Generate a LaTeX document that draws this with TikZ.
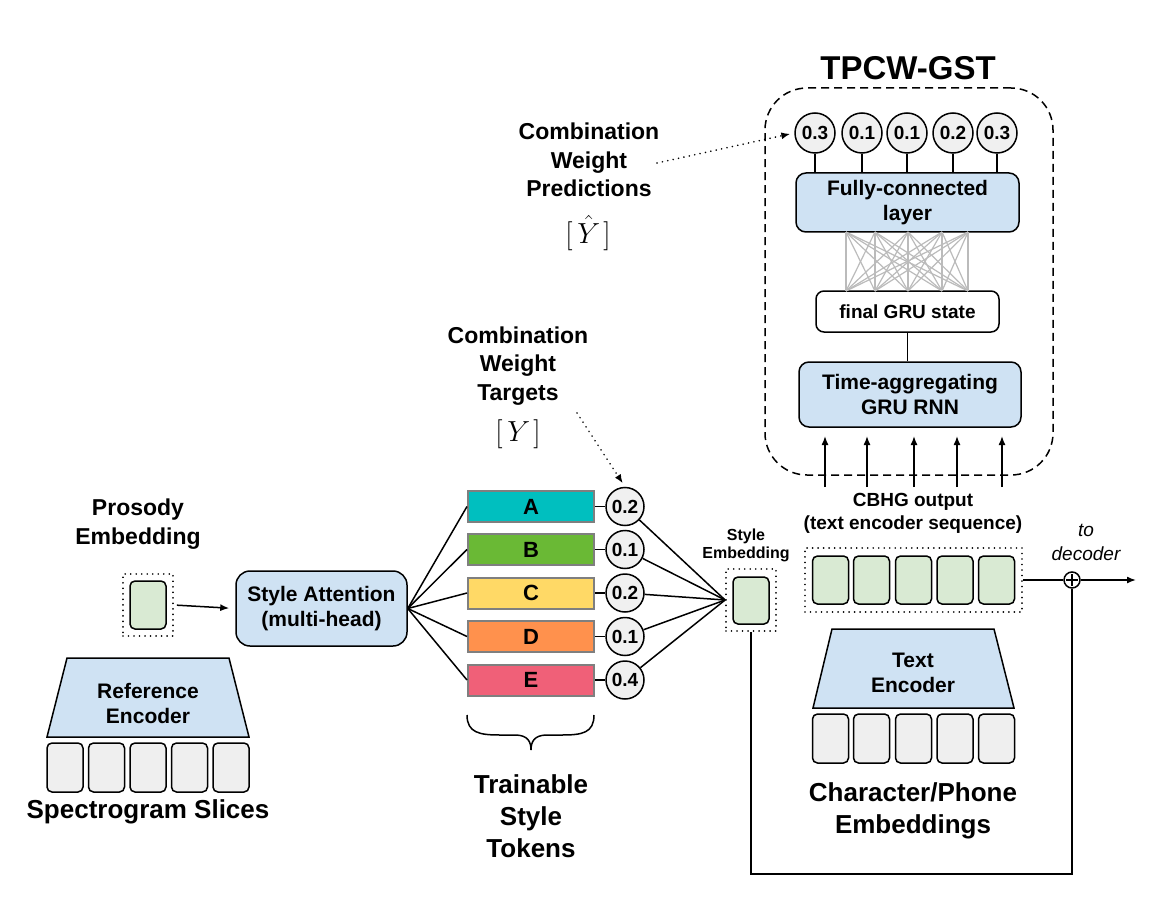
\RequirePackage{fix-cm}
\documentclass[tikz,border=0pt]{standalone}
\usepackage[no-math]{fontspec}
\setmainfont{Liberation Sans}
\usetikzlibrary{arrows.meta}
\definecolor{blueF}{HTML}{CFE2F3}
\definecolor{greenF}{HTML}{D9EAD3}
\definecolor{grayF}{HTML}{EFEFEF}
\definecolor{circF}{HTML}{F0F0F0}
\definecolor{tokBorder}{HTML}{7F7F7F}
\definecolor{tokA}{HTML}{00BFBF}
\definecolor{tokB}{HTML}{6AB935}
\definecolor{tokC}{HTML}{FFD966}
\definecolor{tokD}{HTML}{FF914D}
\definecolor{tokE}{HTML}{F06078}
\definecolor{fanGray}{HTML}{BBBBBB}
\newcommand{\myfs}[2]{\fontsize{#1}{#2}\selectfont}
\tikzset{
  lw/.style={line width=1.5pt},
  bluebox/.style={draw, line width=1.5pt, fill=blueF, rounded corners=10pt, align=center, inner sep=0pt, font=\myfs{21}{25}\bfseries},
  whitebox/.style={draw, line width=1.5pt, fill=white, rounded corners=8pt, align=center, inner sep=0pt, font=\myfs{19}{22}\bfseries},
  greenbox/.style={draw, line width=1.5pt, fill=greenF, rounded corners=5pt, minimum width=36pt, minimum height=48pt, inner sep=0pt},
  graybox/.style={draw, line width=1.5pt, fill=grayF, rounded corners=5pt, minimum width=36pt, minimum height=49pt, inner sep=0pt},
  dotbox/.style={draw, line width=1.8pt, dash pattern=on 0.01pt off 5.5pt, line cap=round, inner sep=0pt},
  tokbox/.style={draw=tokBorder, line width=2pt, minimum width=126pt, minimum height=31pt, inner sep=0pt, font=\myfs{22}{24}\bfseries},
  wcirc/.style={circle, draw, line width=1.5pt, fill=circF, minimum size=38pt, inner sep=0pt, font=\myfs{19}{20}\bfseries},
  lbl/.style={align=center, font=\myfs{23}{28.5}\bfseries},
  biglbl/.style={align=center, font=\myfs{26}{32}\bfseries},
  mathlbl/.style={inner sep=0pt, font=\myfs{20.74}{24}},
  arr/.style={-{Latex[length=9pt,width=7pt]}, line width=1.5pt},
  dotarr/.style={-{Latex[length=9pt,width=7pt]}, line width=1.8pt, dash pattern=on 0.01pt off 5.5pt, line cap=round},
}
\begin{document}
\begin{tikzpicture}[x=1pt,y=-1pt]
\useasboundingbox (0,0) rectangle (1170,920);

% ---------- TPCW-GST ----------
\node[draw, line width=1.5pt, dash pattern=on 8pt off 5pt, rounded corners=42pt, minimum width=288pt, minimum height=387pt, inner sep=0pt] (tpcw) at (909,281.5) {};
\node[font=\myfs{33}{36}\bfseries] (title) at (908,68) {TPCW-GST};

\foreach \i/\x/\v in {1/815/0.3,2/862/0.1,3/907/0.1,4/953/0.2,5/997/0.3}
  \node[wcirc, minimum size=40pt] (c\i) at (\x,133) {\v};

\node[bluebox, minimum width=223pt, minimum height=59pt] (fc) at (907.5,202.5) {Fully-connected\\layer};
\foreach \i in {1,...,5} \draw[lw] (c\i.south) -- (c\i.south |- fc.north);

\node[whitebox, minimum width=183pt, minimum height=41pt] (gru) at (907.5,311.5) {final GRU state};

\foreach \i/\x in {1/846,2/875,3/908,4/942,5/968} {
  \coordinate (u\i) at (\x,232);
  \coordinate (l\i) at (\x,291);
}
\foreach \i in {1,...,5}
  \foreach \j in {1,...,5}
    \draw[fanGray, line width=1.2pt] (u\i) -- (l\j);

\node[bluebox, minimum width=222pt, minimum height=65pt] (ta) at (910,394.5) {Time-aggregating\\GRU RNN};
\draw[lw] (gru.south) -- (gru.south |- ta.north);

\foreach \i/\x in {1/825,2/867,3/914,4/957,5/1002} {
  \coordinate (ab\i) at (\x,487);
  \coordinate (at\i) at (\x,436);
  \draw[arr] (ab\i) -- (at\i);
}

% ---------- Prediction / target labels ----------
\node[lbl] (pred) at (589,160) {Combination\\Weight\\Predictions};
\node[mathlbl] (yhat) at (588,233) {\scalebox{1.4}{$[\mkern3mu\hat{Y}\mkern2mu]$}};
\coordinate (pstart) at (657,163);
\draw[dotarr, shorten >=4pt] (pstart) -- (c1.west);

\node[lbl] (targ) at (518,366) {Combination\\Weight\\Targets};
\node[mathlbl] (ylab) at (518,434) {\scalebox{1.4}{$[\mkern3mu Y\mkern2mu]$}};
\coordinate (tstart) at (577,413);

% ---------- Tokens ----------
\foreach \n/\y/\col/\v in {A/506.5/tokA/0.2, B/549.5/tokB/0.1, C/593/tokC/0.2, D/636.5/tokD/0.1, E/680/tokE/0.4} {
  \node[tokbox, fill=\col] (t\n) at (531,\y) {\n};
  \node[wcirc] (w\n) at (625,\y) {\v};
  \draw[lw] (t\n.east) -- (w\n.west);
}
\draw[dotarr, shorten >=4pt] (tstart) -- (wA.north);

\draw[lw] (467,715) .. controls (467,733) and (480,735) .. (500,735)
  -- (515,735) .. controls (528,735) and (531,742) .. (531,750)
  .. controls (531,742) and (534,735) .. (547,735) -- (562,735)
  .. controls (582,735) and (594,733) .. (594,715);
\node[biglbl] (tst) at (531,816) {Trainable\\Style\\Tokens};

% ---------- Left side ----------
\node[lbl] (plab) at (138,524) {Prosody\\Embedding};
\node[dotbox, minimum width=50pt, minimum height=62pt] (pe) at (148,605) {};
\node[greenbox] (pein) at (148,605) {};

\node[bluebox, rounded corners=14pt, minimum width=171pt, minimum height=75pt] (sa) at (321.5,608.5) {Style Attention\\(multi-head)};
\draw[arr, shorten <=3pt, shorten >=6pt] (pe.east) -- (sa.west);

\foreach \n in {A,B,C,D,E} \draw[lw] (sa.east) -- (t\n.west);

\draw[lw, fill=blueF] (67,658) -- (229,658) -- (249,737) -- (47,737) -- cycle;
\node[align=center, font=\myfs{21}{25}\bfseries] (refenc) at (148,703.5) {Reference\\Encoder};
\foreach \i/\x in {1/65,2/106.5,3/148,4/189.5,5/231}
  \node[graybox] (s\i) at (\x,767.5) {};
\node[biglbl] (slab) at (148,812) {Spectrogram Slices};

% ---------- Style embedding ----------
\node[align=center, font=\myfs{16}{18}\bfseries] (selab) at (746,545) {Style\\Embedding};
\node[dotbox, minimum width=50pt, minimum height=62pt] (se) at (751,600) {};
\node[greenbox, minimum height=47pt] (sein) at (751,600.5) {};
\foreach \n in {A,B,C,D,E} \draw[lw] (w\n) -- (se.west);

% ---------- Text encoder side ----------
\node[align=center, font=\myfs{19}{23}\bfseries] (cbhglab) at (913,513.5) {CBHG output\\(text encoder sequence)};
\node[dotbox, minimum width=217pt, minimum height=64pt] (cbhg) at (913.5,580) {};
\foreach \i/\x in {1/830.5,2/871.5,3/913.5,4/955,5/996.5}
  \node[greenbox] (g\i) at (\x,580) {};

\draw[lw, fill=blueF] (832,629) -- (994,629) -- (1014,708) -- (813,708) -- cycle;
\node[align=center, font=\myfs{21}{25}\bfseries] (tenc) at (913,672.5) {Text\\Encoder};
\foreach \i/\x in {1/830.5,2/871.5,3/913.5,4/955,5/996.5}
  \node[graybox] (e\i) at (\x,738.5) {};
\node[biglbl] (chlab) at (913,811) {Character/Phone\\Embeddings};

\node[align=center, font=\myfs{19}{24}\itshape] (todec) at (1086,542) {to\\decoder};
\node[circle, draw, line width=1.5pt, fill=white, minimum size=16pt, inner sep=0pt] (plus) at (1072,580) {};
\draw[line width=1.5pt] ([yshift=-3pt]plus.north) -- ([yshift=3pt]plus.south);
\draw[line width=1.5pt] ([xshift=3pt]plus.west) -- ([xshift=-3pt]plus.east);
\draw[lw] (cbhg.east) -- (plus.west);
\coordinate (out) at (1136,580);
\draw[arr] (plus.east) -- (out);
\coordinate (lb) at (751,874);
\draw[lw] (se.south) -- (lb) -| (plus.south);
\end{tikzpicture}
\end{document}
